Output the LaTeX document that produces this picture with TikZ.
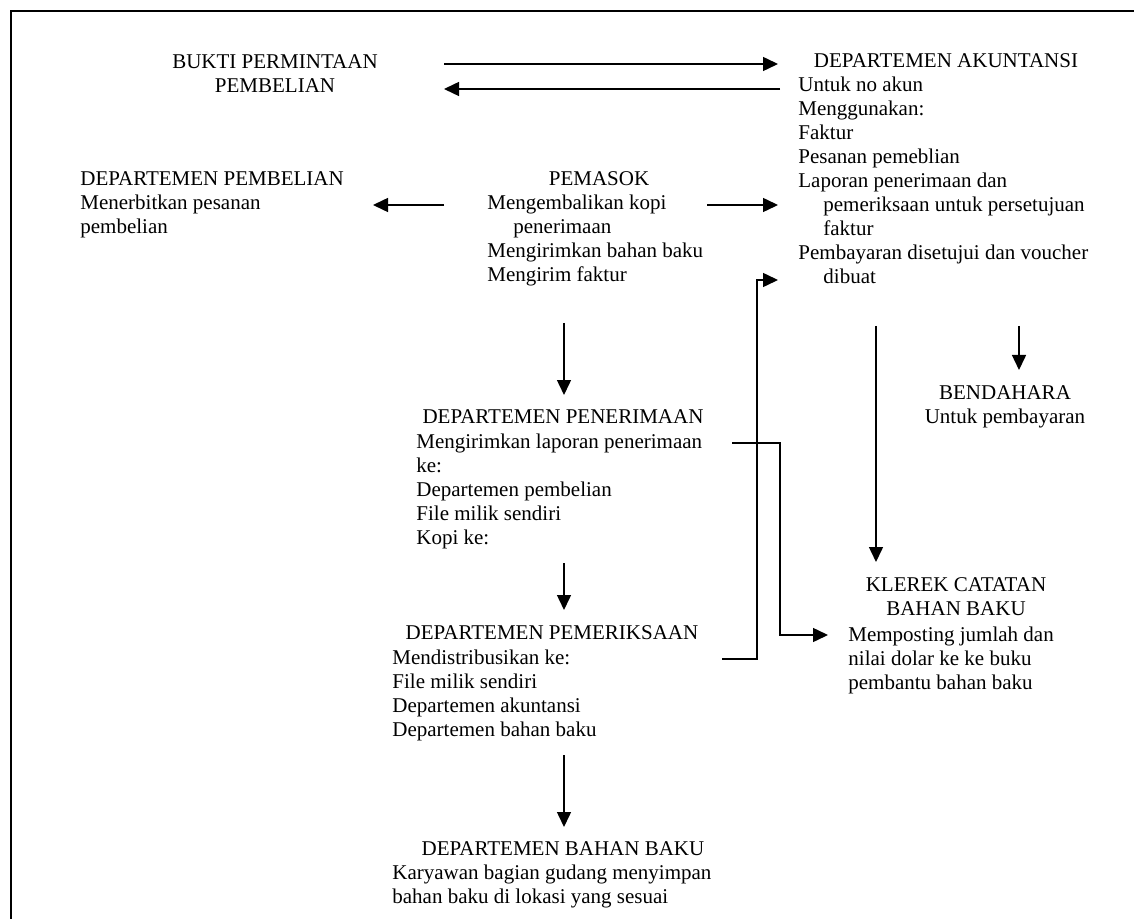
\documentclass[tikz,border=0pt]{standalone}
\usepackage{fontspec}
\setmainfont{Liberation Serif}
\usetikzlibrary{arrows.meta}
\tikzset{
  txt/.style={inner sep=0pt,font=\fontsize{10.5}{12}\selectfont,align=left,anchor=base west},
  head/.style={inner sep=0pt,font=\fontsize{10.5}{12}\selectfont,align=center,anchor=base},
  arr/.style={-{Triangle[length=7.5pt,width=7pt]},line width=0.75pt},
}

\begin{document}
\begin{tikzpicture}[x=0.5pt,y=-0.5pt]
\useasboundingbox (0,0) rectangle (1134,919);
\draw[line width=1pt] (11,919) -- (11,11) -- (1134,11);

% blocks (placed at the baseline of their last line)
\node (bukti) [head] at (275,93) {BUKTI PERMINTAAN\\PEMBELIAN};
\node (akunh) [head] at (946,68) {DEPARTEMEN AKUNTANSI};
\node (akun) [txt] at (798,284) {Untuk no akun\\Menggunakan:\\Faktur\\Pesanan pemeblian\\Laporan penerimaan dan\\
  \hspace*{12.5pt}pemeriksaan untuk persetujuan\\\hspace*{12.5pt}faktur\\Pembayaran disetujui dan voucher\\\hspace*{12.5pt}dibuat};
\node (beli) [txt] at (80,234) {DEPARTEMEN PEMBELIAN\\Menerbitkan pesanan\\pembelian};
\node (pasokh) [head] at (599,186) {PEMASOK};
\node (pasok) [txt] at (487,282) {Mengembalikan kopi\\\hspace*{13pt}penerimaan\\Mengirimkan bahan baku\\Mengirim faktur};
\node (terimah) [head] at (563,423) {DEPARTEMEN PENERIMAAN};
\node (terima) [txt] at (416,544) {Mengirimkan laporan penerimaan\\ke:\\Departemen pembelian\\File milik sendiri\\Kopi ke:};
\node (periksah) [head] at (552,639) {DEPARTEMEN PEMERIKSAAN};
\node (periksa) [txt] at (392,736) {Mendistribusikan ke:\\File milik sendiri\\Departemen akuntansi\\Departemen bahan baku};
\node (bahanh) [head] at (563,855) {DEPARTEMEN BAHAN BAKU};
\node (bahan) [txt] at (392,903) {Karyawan bagian gudang menyimpan\\bahan baku di lokasi yang sesuai};
\node (bendahara) [head] at (1005,423) {BENDAHARA\\Untuk pembayaran};
\node (klerekh) [head] at (956,615) {KLEREK CATATAN\\BAHAN BAKU};
\node (klerek) [txt] at (848,689) {Memposting jumlah dan\\nilai dolar ke ke buku\\pembantu bahan baku};

% arrow ends
\coordinate (bk1) at (444,64);  \coordinate (ak1) at (778,64);
\coordinate (ak2) at (780,89);  \coordinate (bk2) at (444,89);
\coordinate (ps1) at (444,205); \coordinate (bl1) at (373,205);
\coordinate (ps2) at (707,205); \coordinate (ak3) at (778,205);
\coordinate (ps3) at (564,323); \coordinate (tr1) at (564,395);
\coordinate (tr2) at (564,563); \coordinate (pr1) at (564,610);
\coordinate (pr2) at (564,755); \coordinate (bh1) at (564,827);
\coordinate (tr3) at (732,443); \coordinate (kl1) at (828,635);
\coordinate (pr3) at (722,659); \coordinate (ak4) at (778,280);
\coordinate (ak5) at (876,326); \coordinate (kl2) at (876,562);
\coordinate (ak6) at (1019,326); \coordinate (bd1) at (1019,370);

\draw[arr] (bk1) -- (ak1);
\draw[arr] (ak2) -- (bk2);
\draw[arr] (ps1) -- (bl1);
\draw[arr] (ps2) -- (ak3);
\draw[arr] (ps3) -- (tr1);
\draw[arr] (tr2) -- (pr1);
\draw[arr] (pr2) -- (bh1);
\draw[arr] (tr3) -- (780,443) |- (kl1);
\draw[arr] (pr3) -- (757,659) |- (ak4);
\draw[arr] (ak5) -- (kl2);
\draw[arr] (ak6) -- (bd1);
\end{tikzpicture}
\end{document}
